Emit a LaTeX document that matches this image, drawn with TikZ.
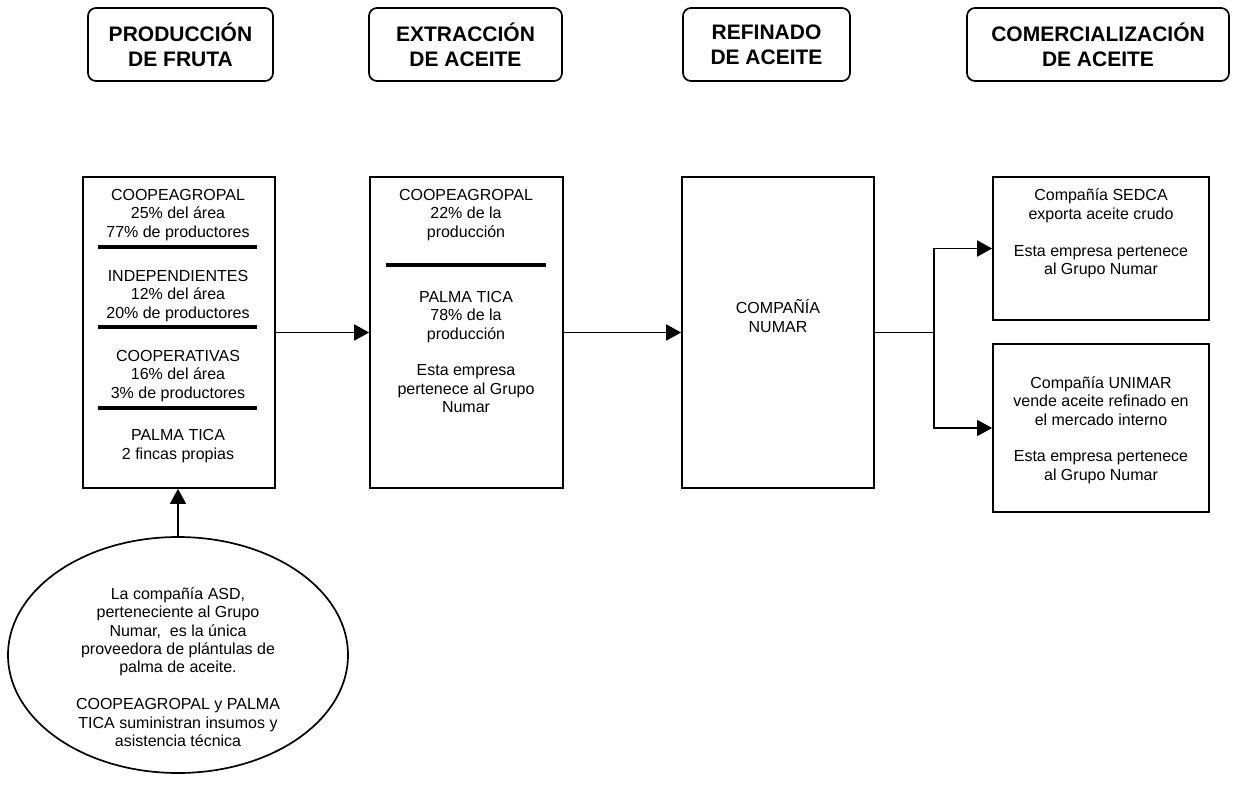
\documentclass[tikz,border=0pt]{standalone}
\usepackage{fontspec}
\setmainfont{Liberation Sans}
\usetikzlibrary{arrows.meta,shapes.geometric}
\begin{document}
\begin{tikzpicture}[x=1pt,y=-1pt,
  hdr/.style={draw,line width=1.7pt,rounded corners=8pt,font=\fontsize{21}{25}\selectfont\bfseries,align=center,inner sep=0pt},
  box/.style={draw,line width=1.7pt,inner sep=0pt},
  txt/.style={font=\fontsize{16}{18.4}\selectfont,align=center,inner sep=0pt},
  sep/.style={line width=4pt},
  arr/.style={line width=1.7pt,-{Triangle[length=15pt,width=16pt]}},
  ln/.style={line width=1.7pt}]
\useasboundingbox (0,0) rectangle (1236,801);

% headers
\node[hdr,minimum width=185pt,minimum height=73pt] (h1) at (180.5,44.5) {PRODUCCIÓN\\DE FRUTA};
\node[hdr,minimum width=193pt,minimum height=73pt] (h2) at (465.5,44.5) {EXTRACCIÓN\\DE ACEITE};
\node[hdr,minimum width=167pt,minimum height=73pt] (h3) at (766.5,44.5) {REFINADO\\DE ACEITE};
\node[hdr,minimum width=262pt,minimum height=73pt] (h4) at (1098,44.5) {COMERCIALIZACIÓN\\DE ACEITE};

% main boxes
\node[box,minimum width=192pt,minimum height=311pt] (A) at (179,332.5) {};
\node[box,minimum width=193pt,minimum height=311pt] (B) at (466.5,332.5) {};
\node[box,minimum width=192pt,minimum height=311pt] (C) at (778,332.5) {};
\node[box,minimum width=216pt,minimum height=143pt] (S) at (1101,248.5) {};
\node[box,minimum width=216pt,minimum height=168pt] (U) at (1101,428) {};
\node[draw,ellipse,line width=1.7pt,minimum width=340pt,minimum height=236pt,inner sep=0pt] (E) at (178,655) {};

% texts in box A
\node[txt] (a1) at (178,215) {COOPEAGROPAL\\25\% del área\\77\% de productores};
\node[txt] (a2) at (178,296) {INDEPENDIENTES\\12\% del área\\20\% de productores};
\node[txt] (a3) at (178,376) {COOPERATIVAS\\16\% del área\\3\% de productores};
\node[txt] (a4) at (178,446) {PALMA TICA\\2 fincas propias};
\draw[sep] (98,247) -- (257,247);
\draw[sep] (98,327) -- (257,327);
\draw[sep] (98,408) -- (257,408);

% texts in box B
\node[txt] (b1) at (466,215) {COOPEAGROPAL\\22\% de la\\producción};
\draw[sep] (386,265) -- (546,265);
\node[txt] (b2) at (466,352) {PALMA TICA\\78\% de la\\producción\\[18.4pt]Esta empresa\\pertenece al Grupo\\Numar};

% box C
\node[txt] (c1) at (778,316) {COMPAÑÍA\\NUMAR};

% right boxes
\node[txt] (s1) at (1101,233.5) {Compañía SEDCA\\exporta aceite crudo\\[18.4pt]Esta empresa pertenece\\al Grupo Numar};
\node[txt] (u1) at (1101,430) {Compañía UNIMAR\\vende aceite refinado en\\el mercado interno\\[18.4pt]Esta empresa pertenece\\al Grupo Numar};

% ellipse text
\node[txt] (e1) at (178,667) {La compañía ASD,\\perteneciente al Grupo\\Numar, \ es la única\\proveedora de plántulas de\\palma de aceite.\\[18.4pt]COOPEAGROPAL y PALMA\\TICA suministran insumos y\\asistencia técnica};

% connectors
\draw[arr] (A) -- (B);
\draw[arr] (B) -- (C);
\coordinate (j) at (934,332.5);
\draw[ln] (C.east) -- (j);
\draw[arr] (j) |- (S.west);
\draw[arr] (j) |- (U.west);
\draw[arr] (E.north) -- (E.north |- A.south);
\end{tikzpicture}
\end{document}
